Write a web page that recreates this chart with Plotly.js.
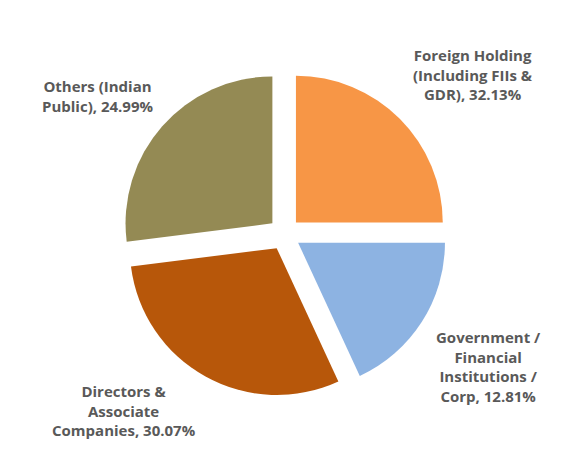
<!DOCTYPE html>
<html>
<head>
<meta charset="utf-8">
<script src="https://cdn.plot.ly/plotly-3.0.1.min.js"></script>
<style>html,body{margin:0;padding:0;background:#fff;}#chart{width:576px;height:467px;}</style>
</head>
<body>
<div id="chart"></div>
<script>
// Categories (label text, with line breaks as in the reference)
var categories = [
  "Foreign Holding<br>(Including FIIs &<br>GDR)",
  "Government /<br>Financial<br>Institutions /<br>Corp",
  "Directors &<br>Associate<br>Companies",
  "Others (Indian<br>Public)"
];
// Percentages printed in the labels
var labelPercents = [32.13, 12.81, 30.07, 24.99];
// Slice sizes as drawn in the picture (angular share, %)
var sliceValues = [25.0, 18.1, 29.9, 27.0];
var colors = ["#F79646", "#8DB3E2", "#B7570A", "#948A54"];

// label placement (paper coords) for each category
var labelPos = [
  {x: 0.832, y: 0.988},
  {x: 0.858, y: 0.095},
  {x: 0.218, y: -0.040},
  {x: 0.172, y: 0.922}
];

var trace = {
  type: "pie",
  labels: categories.map(function(c){ return c.replace(/<br>/g, " "); }),
  values: sliceValues,
  sort: false,
  direction: "clockwise",
  rotation: 0,
  pull: [0.11, 0.11, 0.11, 0.11],
  marker: {colors: colors, line: {width: 0}},
  textinfo: "none",
  hoverinfo: "label",
  showlegend: false
};

var annotations = categories.map(function(c, i){
  return {
    xref: "paper", yref: "paper",
    x: labelPos[i].x, y: labelPos[i].y,
    xanchor: "center", yanchor: "middle", align: "center",
    showarrow: false,
    text: c + ", " + labelPercents[i].toFixed(2) + "%",
    font: {family: "Open Sans", size: 15, color: "#595959", weight: 700}
  };
});

var layout = {
  width: 576, height: 467,
  margin: {l: 0, r: 7, t: 71, b: 70, pad: 0},
  paper_bgcolor: "#ffffff",
  plot_bgcolor: "#ffffff",
  showlegend: false,
  annotations: annotations
};

Plotly.newPlot("chart", [trace], layout, {displayModeBar: false, staticPlot: true});
</script>
</body>
</html>
